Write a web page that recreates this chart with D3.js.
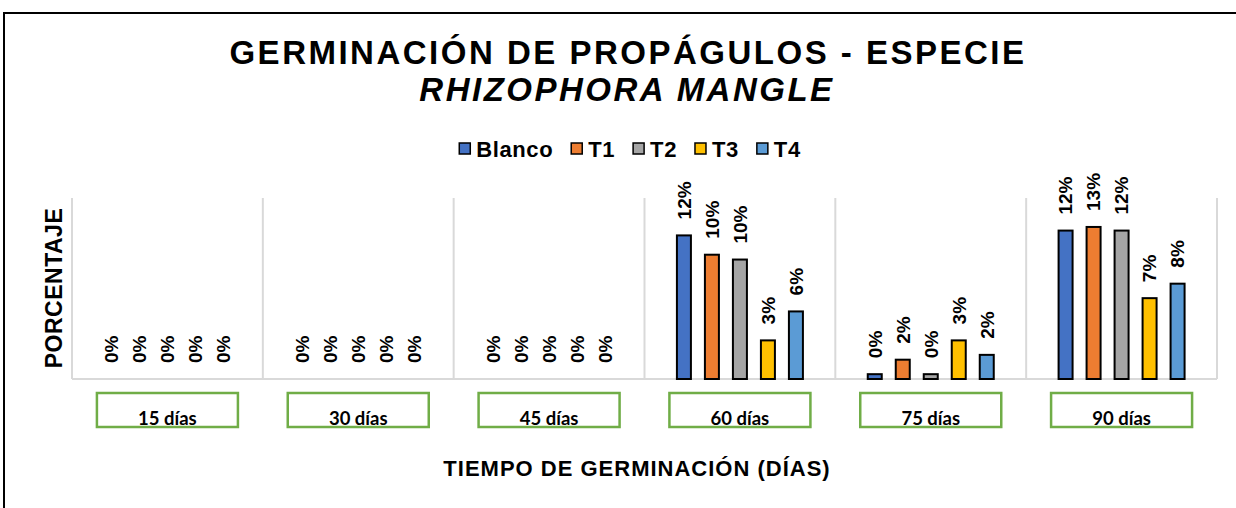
<!DOCTYPE html>
<html>
<head>
<meta charset="utf-8">
<script src="https://cdn.jsdelivr.net/npm/d3@7"></script>
<style>
  html, body { margin: 0; padding: 0; background: #fff; }
  svg { display: block; }
</style>
</head>
<body>
<div id="chart"></div>
<script>
// datos (porcentaje de germinación)
const categories = ["15 días", "30 días", "45 días", "60 días", "75 días", "90 días"];
const series = ["Blanco", "T1", "T2", "T3", "T4"];
const colors = ["#4472C4", "#ED7D31", "#A5A5A5", "#FFC000", "#5B9BD5"];

const blanco = [0, 0, 0, 11.9, 0.4, 12.3];
const t1 = [0, 0, 0, 10.3, 1.6, 12.6];
const t2 = [0, 0, 0, 9.9, 0.4, 12.3];
const t3 = [0, 0, 0, 3.2, 3.2, 6.7];
const t4 = [0, 0, 0, 5.6, 2.0, 7.9];
const values = [blanco, t1, t2, t3, t4];

const yMax = 15;

const W = 1236, H = 508;
const plot = { left: 72, right: 1217, top: 198, bottom: 379 };
const sans = "'Liberation Sans', Arial, Helvetica, sans-serif";

const svg = d3.select("#chart").append("svg")
  .attr("width", W).attr("height", H);

// marco del gráfico
svg.append("rect")
  .attr("x", 4).attr("y", 13)
  .attr("width", W + 20).attr("height", H + 20)
  .attr("fill", "none")
  .attr("stroke", "#000")
  .attr("stroke-width", 2);

// títulos
const title = svg.append("text")
  .attr("text-anchor", "middle")
  .style("font-family", sans)
  .style("font-weight", "bold")
  .style("font-size", "33px")
  .style("letter-spacing", "2.5px");
title.append("tspan").attr("x", 628).attr("y", 64).text("GERMINACIÓN DE PROPÁGULOS - ESPECIE");
title.append("tspan").attr("x", 627).attr("y", 101).style("font-style", "italic").text("RHIZOPHORA MANGLE");

const x0 = d3.scaleBand()
  .domain(categories)
  .range([plot.left, plot.right]);

const x1 = d3.scaleBand()
  .domain(series)
  .range([0, 140])
  .paddingInner(0.5)
  .paddingOuter(0.25);

const y = d3.scaleLinear()
  .domain([0, yMax])
  .range([plot.bottom, plot.top]);

// líneas de división entre categorías
const bounds = categories.map(c => x0(c)).concat([plot.right]);
svg.append("g").selectAll("line")
  .data(bounds)
  .join("line")
  .attr("x1", d => d).attr("x2", d => d)
  .attr("y1", plot.top).attr("y2", plot.bottom)
  .attr("stroke", "#d9d9d9")
  .attr("stroke-width", 2);

svg.append("line")
  .attr("x1", plot.left).attr("x2", plot.right)
  .attr("y1", plot.bottom).attr("y2", plot.bottom)
  .attr("stroke", "#d9d9d9")
  .attr("stroke-width", 2);

// barras
const rows = [];
categories.forEach((c, i) => {
  series.forEach((s, j) => {
    rows.push({ cat: c, s, color: colors[j], v: values[j][i] });
  });
});

const bx = d => x0(d.cat) + x0.bandwidth() / 2 - 70 + x1(d.s);

svg.append("g").selectAll("rect")
  .data(rows.filter(d => d.v > 0))
  .join("rect")
  .attr("x", bx)
  .attr("y", d => y(d.v))
  .attr("width", x1.bandwidth())
  .attr("height", d => y(0) - y(d.v))
  .attr("fill", d => d.color)
  .attr("stroke", "#000")
  .attr("stroke-width", 2);

// etiquetas de datos
svg.append("g").selectAll("text")
  .data(rows)
  .join("text")
  .attr("transform", d => `translate(${bx(d) + x1.bandwidth() / 2},${y(d.v) - 16}) rotate(-90)`)
  .attr("dy", "0.36em")
  .attr("text-anchor", "start")
  .style("font-family", sans)
  .style("font-weight", "bold")
  .style("font-size", "19px")
  .text(d => Math.round(d.v) + "%");

// cajas de categorías
const boxW = 141, boxH = 34, boxTop = 393;
const boxes = svg.append("g").selectAll("g")
  .data(categories)
  .join("g")
  .attr("transform", d => `translate(${x0(d) + x0.bandwidth() / 2},0)`);

boxes.append("rect")
  .attr("x", -boxW / 2).attr("y", boxTop)
  .attr("width", boxW).attr("height", boxH)
  .attr("fill", "#fff")
  .attr("stroke", "#70AD47")
  .attr("stroke-width", 2.5);

boxes.append("text")
  .attr("y", boxTop + boxH - 2)
  .attr("text-anchor", "middle")
  .style("font-family", "Lato, Carlito, sans-serif")
  .style("font-weight", "bold")
  .style("font-size", "18.5px")
  .text(d => d);

// títulos de ejes
svg.append("text")
  .attr("x", 637).attr("y", 476)
  .attr("text-anchor", "middle")
  .style("font-family", sans)
  .style("font-weight", "bold")
  .style("font-size", "22px")
  .style("letter-spacing", "1px")
  .text("TIEMPO DE GERMINACIÓN (DÍAS)");

svg.append("text")
  .attr("transform", "translate(54,288) rotate(-90)")
  .attr("dy", "0.36em")
  .attr("text-anchor", "middle")
  .style("font-family", sans)
  .style("font-weight", "bold")
  .style("font-size", "23px")
  .style("letter-spacing", "0.5px")
  .text("PORCENTAJE");

// leyenda
const legend = svg.append("g");
let lx = 0;
series.forEach((s, j) => {
  const item = legend.append("g").attr("transform", `translate(${lx},0)`);
  item.append("rect")
    .attr("x", 0).attr("y", -6)
    .attr("width", 11).attr("height", 11)
    .attr("fill", colors[j])
    .attr("stroke", "#000")
    .attr("stroke-width", 1.5);
  const t = item.append("text")
    .attr("x", 17).attr("dy", "0.36em")
    .style("font-family", sans)
    .style("font-weight", "bold")
    .style("font-size", "22px")
    .style("letter-spacing", "0.6px")
    .text(s);
  lx += 17 + t.node().getComputedTextLength() + 18;
});
const legW = lx - 18;
legend.attr("transform", `translate(${630 - legW / 2},149)`);
</script>
</body>
</html>
